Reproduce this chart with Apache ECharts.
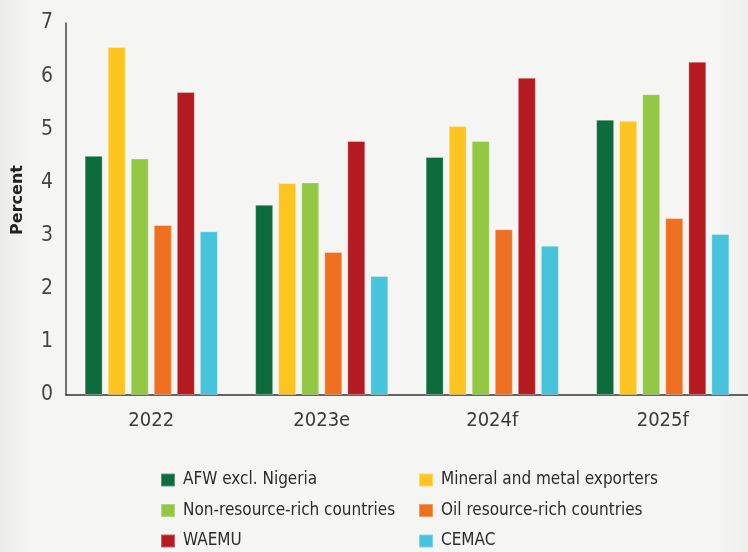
<!DOCTYPE html>
<html>
<head>
<meta charset="utf-8">
<script src="https://cdn.jsdelivr.net/npm/echarts@6/dist/echarts.min.js"></script>
<style>
html,body{margin:0;padding:0;background:#f5f5f3;}
#chart{width:748px;height:552px;}
</style>
</head>
<body>
<div id="chart"></div>
<script>
const categories = ['2022', '2023e', '2024f', '2025f'];
const seriesNames = ['AFW excl. Nigeria', 'Mineral and metal exporters', 'Non-resource-rich countries', 'Oil resource-rich countries', 'WAEMU', 'CEMAC'];
const afwExclNigeria = [4.50, 3.58, 4.48, 5.18];
const mineralMetal = [6.55, 3.99, 5.06, 5.16];
const nonResourceRich = [4.45, 4.00, 4.78, 5.66];
const oilResourceRich = [3.20, 2.69, 3.12, 3.33];
const waemu = [5.70, 4.78, 5.97, 6.27];
const cemac = [3.08, 2.24, 2.81, 3.03];
const yTicks = [0, 1, 2, 3, 4, 5, 6, 7];

const colors = ['#0e6b3c', '#fec520', '#92c843', '#f07022', '#b51a21', '#47c4dc'];
const values = [afwExclNigeria, mineralMetal, nonResourceRich, oilResourceRich, waemu, cemac];
const FONT = "'DejaVu Sans', sans-serif";
const COND = 'condensed';

const legendCommon = {
  orient: 'vertical', top: 471, itemGap: 12.5, padding: 0,
  itemWidth: 14, itemHeight: 13, icon: 'rect',
  textStyle: {fontFamily: FONT, fontWeight: COND, fontSize: 17, lineHeight: 18, color: '#2b2b2b', padding: [0, 0, 0, 3]}
};

const chart = echarts.init(document.getElementById('chart'));
chart.setOption({
  backgroundColor: {
    type: 'linear', x: 0, y: 0, x2: 1, y2: 0,
    colorStops: [
      {offset: 0, color: '#ebebea'},
      {offset: 0.04, color: '#f5f5f3'},
      {offset: 0.96, color: '#f5f5f3'},
      {offset: 1, color: '#efefee'}
    ]
  },
  animation: false,
  textStyle: {fontFamily: FONT},
  grid: {left: 66, right: -10, top: 23, bottom: 157, containLabel: false},
  legend: [
    Object.assign({left: 160, data: [seriesNames[0], seriesNames[2], seriesNames[4]]}, legendCommon),
    Object.assign({left: 418, data: [seriesNames[1], seriesNames[3], seriesNames[5]]}, legendCommon)
  ],
  xAxis: {
    type: 'category', data: categories,
    axisLine: {lineStyle: {color: '#333', width: 1.5}},
    axisTick: {show: false},
    axisLabel: {fontFamily: FONT, fontWeight: COND, fontSize: 20, color: '#3a3a3a', margin: 16}
  },
  yAxis: {
    type: 'value', min: yTicks[0], max: yTicks[yTicks.length - 1], interval: 1,
    name: 'Percent', nameLocation: 'middle', nameGap: 40, nameRotate: 90,
    nameTextStyle: {fontFamily: FONT, fontWeight: 'bold', fontSize: 16, color: '#222', padding: [0, 0, 0, 18]},
    axisLine: {show: true, lineStyle: {color: '#444', width: 1.5}},
    axisTick: {show: false},
    splitLine: {show: false},
    axisLabel: {fontFamily: FONT, fontWeight: COND, fontSize: 21, color: '#444', margin: 13, padding: [3, 0, 0, 0]}
  },
  series: seriesNames.map((n, i) => ({
    name: n, type: 'bar', data: values[i],
    barWidth: 18, barGap: '28%',
    itemStyle: {color: colors[i], borderColor: 'rgba(255,255,255,0.3)', borderWidth: 1}
  }))
});
</script>
</body>
</html>
